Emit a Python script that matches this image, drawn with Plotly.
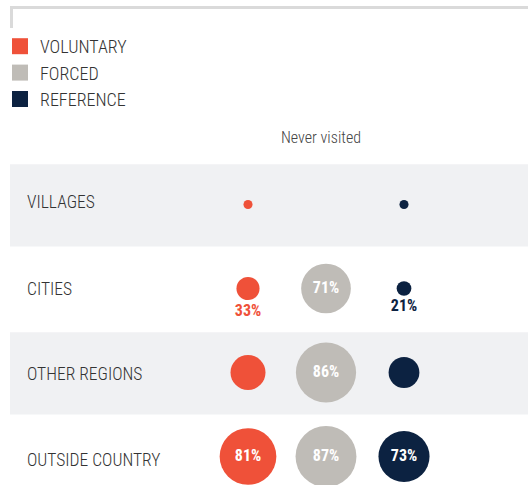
import plotly.graph_objects as go

# ---- data ----
categories = ["VILLAGES", "CITIES", "OTHER REGIONS", "OUTSIDE COUNTRY"]
series = ["VOLUNTARY", "FORCED", "REFERENCE"]
voluntary = [13, 33, 50, 81]
forced = [None, 71, 86, 87]
reference = [13, 21, 44, 73]
column_title = "Never visited"

# label placement per point: 'in' inside the bubble, 'below' under it, '' none
label_mode = {
    "VOLUNTARY": ["", "below", "", "in"],
    "FORCED": ["", "in", "in", "in"],
    "REFERENCE": ["", "below", "", "in"],
}
colors = {"VOLUNTARY": "#EF5139", "FORCED": "#BFBCB7", "REFERENCE": "#0C2241"}
values = {"VOLUNTARY": voluntary, "FORCED": forced, "REFERENCE": reference}

W, H = 528, 485
PX_PER_PCT = 0.7  # bubble diameter scale
COL_STEP = 78     # px between columns
ROW_STEP = 84     # px between rows
FIRST_COL_PX = 248
FIRST_ROW_PX = 204.5

COND = "Roboto Condensed, DejaVu Sans Condensed, Liberation Sans Narrow, sans-serif"

fig = go.Figure()

for s in series:
    vals = values[s]
    sizes = [(v * PX_PER_PCT) if v is not None else 0 for v in vals]
    texts, positions, tcolors = [], [], []
    for v, m in zip(vals, label_mode[s]):
        if v is None or m == "":
            texts.append("")
            positions.append("middle center")
            tcolors.append("white")
        elif m == "in":
            texts.append(f"{v}%")
            positions.append("middle center")
            tcolors.append("white")
        else:
            texts.append(f"{v}%")
            positions.append("bottom center")
            tcolors.append(colors[s])
    fig.add_trace(go.Scatter(
        x=[s] * len(categories), y=categories,
        mode="markers+text",
        marker=dict(size=sizes, color=colors[s], line=dict(width=0), opacity=1),
        text=texts, textposition=positions,
        textfont=dict(family=COND, size=16, color=tcolors, weight="bold"),
        showlegend=False, hoverinfo="skip", cliponaxis=False,
    ))
    # legend entry
    fig.add_trace(go.Scatter(
        x=[None], y=[None], mode="markers", name=s,
        marker=dict(symbol="square", size=16, color=colors[s]),
        showlegend=True,
    ))

# axis ranges so columns and rows land where the reference has them
x_left = -FIRST_COL_PX / COL_STEP
x_right = x_left + W / COL_STEP
y_top = -FIRST_ROW_PX / ROW_STEP
y_bottom = y_top + H / ROW_STEP

shapes = []
for i in (0, 2):
    shapes.append(dict(type="rect", xref="paper", yref="y",
                       x0=10 / W, x1=1, y0=i - 0.48, y1=i + 0.5,
                       fillcolor="#F0F1F3", line=dict(width=0), layer="below"))
shapes.append(dict(type="line", xref="paper", yref="paper",
                   x0=10 / W, x1=1, y0=1 - 7.5 / H, y1=1 - 7.5 / H,
                   line=dict(color="#DADADA", width=3)))
shapes.append(dict(type="line", xref="paper", yref="paper",
                   x0=11.5 / W, x1=11.5 / W, y0=1 - 6 / H, y1=1 - 28 / H,
                   line=dict(color="#DADADA", width=3)))

label_yshift = [3, 0, -1, -3]
annotations = []
for c, ys in zip(categories, label_yshift):
    annotations.append(dict(text=c, xref="paper", yref="y", x=25 / W, y=c,
                            xanchor="left", yanchor="middle", showarrow=False,
                            yshift=ys,
                            font=dict(family=COND, size=17.5, color="#333333", weight=300)))
annotations.append(dict(text=column_title, xref="paper", yref="paper",
                        x=321 / W, y=1 - 137 / H, xanchor="center", yanchor="middle",
                        showarrow=False,
                        font=dict(family=COND, size=16, color="#444444", weight=300)))

fig.update_layout(
    width=W, height=H,
    margin=dict(l=0, r=0, t=0, b=0),
    paper_bgcolor="white", plot_bgcolor="white",
    xaxis=dict(type="category", categoryorder="array", categoryarray=series,
               range=[x_left, x_right], visible=False, fixedrange=True),
    yaxis=dict(type="category", categoryorder="array", categoryarray=categories,
               range=[y_bottom, y_top], visible=False, fixedrange=True),
    shapes=shapes, annotations=annotations,
    legend=dict(x=0, y=1 - 28 / H, xanchor="left", yanchor="top",
                font=dict(family=COND, size=18, color="#333333", weight=300),
                itemwidth=30, tracegroupgap=0,
                bgcolor="rgba(0,0,0,0)"),
    showlegend=True,
)

fig.write_html("out.html", config={"displayModeBar": False},
               post_script="document.body.style.margin='0';")
